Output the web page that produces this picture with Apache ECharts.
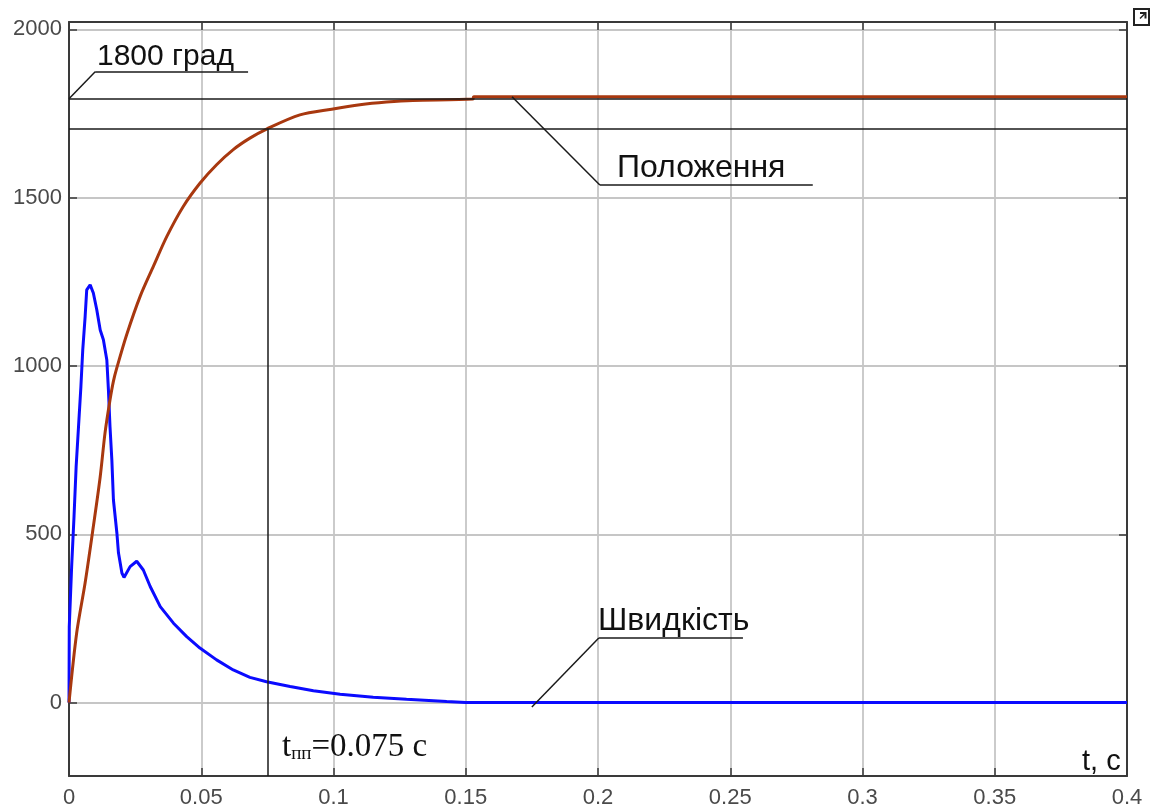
<!DOCTYPE html>
<html>
<head>
<meta charset="utf-8">
<script src="https://cdn.jsdelivr.net/npm/echarts@6/dist/echarts.min.js"></script>
<style>
html,body{margin:0;padding:0;background:#fff;}
#c{width:1153px;height:809px;}
</style>
</head>
<body>
<div id="c"></div>
<script>
// ---- data ----
const speedT = [0, 0.0001, 0.001, 0.0019, 0.0027, 0.0036, 0.0045, 0.0052, 0.0061, 0.0067, 0.008, 0.0092, 0.0105, 0.0118, 0.013, 0.0143, 0.0149, 0.0155, 0.0162, 0.0168, 0.0181, 0.0187, 0.02, 0.0208, 0.0231, 0.0256, 0.0281, 0.0307, 0.0345, 0.0395, 0.0445, 0.0495, 0.0558, 0.0621, 0.0684, 0.0747, 0.0836, 0.0924, 0.1025, 0.115, 0.1276, 0.1428, 0.15, 0.4];
const speedV = [0, 225, 404, 553, 701, 820, 939, 1048, 1147, 1226, 1241, 1217, 1167, 1107, 1078, 1018, 930, 820, 721, 602, 504, 445, 385, 372, 404, 420, 394, 345, 285, 236, 196, 162, 127, 97, 75, 62, 48, 35, 25, 16, 10, 3, 0, 0];
const posT = [0, 0.0029, 0.0061, 0.0092, 0.0118, 0.0136, 0.0155, 0.0168, 0.0181, 0.0218, 0.0269, 0.0319, 0.037, 0.0432, 0.0495, 0.0558, 0.0621, 0.0684, 0.0747, 0.0873, 0.0993, 0.11, 0.12, 0.13, 0.1527, 0.153, 0.4];
const posV = [0, 207, 356, 523, 671, 800, 899, 955, 995, 1093, 1207, 1296, 1385, 1474, 1543, 1598, 1643, 1677, 1704, 1746, 1763, 1776, 1784, 1789, 1793, 1800, 1800];
const xTicks = {min: 0, max: 0.4, step: 0.05};
const yRange = {min: -218, max: 2022};
const refLevel = 1794;      // 1800 град line
const levelBand = 1705;     // 95 % line
const tpp = 0.075;          // settling time
// leader lines: [t1, v1, t2, v2, tEndUnderline]
const leaderGrad = [0, 1794, 0.0099, 1874, 0.0677];
const leaderPos = [0.1675, 1800, 0.2007, 1538, 0.2812];
const leaderSpeed = [0.175, -13, 0.2003, 192, 0.2548];

const chart = echarts.init(document.getElementById('c'), null, {renderer: 'canvas'});
const frameColor = '#3a3a3a';
const gridColor = '#c6c6c6';
const labelFont = '"Liberation Sans", Arial, sans-serif';

function leader(a) {
  return [
    [{coord: [a[0], a[1]]}, {coord: [a[2], a[3]]}],
    [{coord: [a[2], a[3]]}, {coord: [a[4], a[3]]}]
  ];
}

const axisCommon = {
  type: 'value',
  axisLine: {show: true, onZero: false, lineStyle: {color: frameColor, width: 2}},
  axisTick: {show: true, inside: true, length: 8, lineStyle: {color: frameColor, width: 1.5}}
};

const option = {
  animation: false,
  backgroundColor: '#fff',
  grid: {left: 69, right: 26, top: 22, bottom: 33, containLabel: false},
  xAxis: [
    Object.assign({}, axisCommon, {
      position: 'bottom', min: xTicks.min, max: xTicks.max, interval: xTicks.step,
      splitLine: {show: true, lineStyle: {color: gridColor, width: 1.8}},
      axisLabel: {color: '#4a4a4a', fontSize: 22, fontFamily: labelFont, margin: 11,
                  formatter: v => String(+v.toFixed(2))}
    }),
    Object.assign({}, axisCommon, {
      position: 'top', min: xTicks.min, max: xTicks.max, interval: xTicks.step,
      splitLine: {show: false}, axisLabel: {show: false}
    })
  ],
  yAxis: [
    Object.assign({}, axisCommon, {
      position: 'left', min: yRange.min, max: yRange.max, splitNumber: 5,
      splitLine: {show: true, lineStyle: {color: gridColor, width: 1.8}},
      axisLabel: {color: '#4a4a4a', fontSize: 22, fontFamily: labelFont, margin: 7,
                  showMinLabel: false, showMaxLabel: false,
                  formatter: v => String(Math.round(v))}
    }),
    Object.assign({}, axisCommon, {
      position: 'right', min: yRange.min, max: yRange.max, splitNumber: 5,
      splitLine: {show: false}, axisLabel: {show: false}
    })
  ],
  series: [
    {
      name: 'Швидкість', type: 'line', z: 2,
      data: speedT.map((t, i) => [t, speedV[i]]),
      showSymbol: false, symbol: 'none',
      smooth: false,
      lineStyle: {color: '#0b0bff', width: 3},
      markLine: {
        silent: true, symbol: ['none', 'none'], animation: false,
        label: {show: false},
        lineStyle: {color: '#1a1a1a', width: 1.5, type: 'solid'},
        emphasis: {disabled: true},
        data: [
          [{coord: [xTicks.min, refLevel]}, {coord: [xTicks.max, refLevel]}],
          [{coord: [xTicks.min, levelBand]}, {coord: [xTicks.max, levelBand]}],
          [{coord: [tpp, levelBand]}, {coord: [tpp, yRange.min]}]
        ].concat(leader(leaderGrad), leader(leaderPos), leader(leaderSpeed))
      }
    },
    {
      name: 'Положення', type: 'line', z: 3,
      data: posT.map((t, i) => [t, posV[i]]),
      showSymbol: false, symbol: 'none',
      smooth: 0.3,
      lineStyle: {color: '#a8380f', width: 3}
    }
  ],
  graphic: [
    {type: 'text', left: 97, top: 42, z: 10,
     style: {text: '1800 град', font: '30px "Liberation Sans", Arial, sans-serif', fill: '#111'}},
    {type: 'text', left: 617, top: 152, z: 10,
     style: {text: 'Положення', font: '32px "Liberation Sans", Arial, sans-serif', fill: '#111'}},
    {type: 'text', left: 598, top: 605, z: 10,
     style: {text: 'Швидкість', font: '32px "Liberation Sans", Arial, sans-serif', fill: '#111'}},
    {type: 'text', left: 1082, top: 747, z: 10,
     style: {text: 't, c', font: '29px "Liberation Sans", Arial, sans-serif', fill: '#111'}},
    {type: 'text', left: 282, top: 731, z: 10,
     style: {
       text: '{a|t}{b|пп}{a|=0.075 c}',
       rich: {
         a: {fontFamily: '"Liberation Serif", "Times New Roman", serif', fontSize: 33, fill: '#111', color: '#111'},
         b: {fontFamily: '"Liberation Serif", "Times New Roman", serif', fontSize: 19, fill: '#111', color: '#111', verticalAlign: 'bottom', padding: [14, 0, 0, 0]}
       }
     }},
    {type: 'group', z: 10, children: [
      {type: 'rect', shape: {x: 1134, y: 9, width: 15, height: 16},
       style: {fill: '#fff', stroke: '#222', lineWidth: 2}},
      {type: 'polyline', shape: {points: [[1140, 13], [1145.5, 13], [1145.5, 18.5]]},
       style: {fill: 'none', stroke: '#222', lineWidth: 2}},
      {type: 'line', shape: {x1: 1145, y1: 13.5, x2: 1140, y2: 18.5},
       style: {stroke: '#222', lineWidth: 1.5}}
    ]}
  ]
};
chart.setOption(option);
</script>
</body>
</html>
